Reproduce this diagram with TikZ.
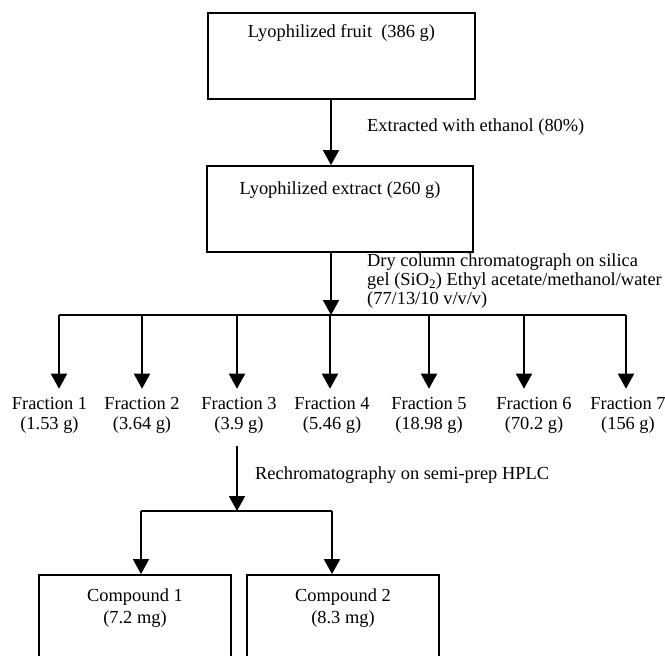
\documentclass[tikz,border=0pt]{standalone}
\usepackage{fontspec}
\setmainfont{Liberation Serif}
\usetikzlibrary{arrows.meta,calc}
\begin{document}
\begin{tikzpicture}[x=1pt,y=-1pt,
  every node/.style={font=\fontsize{18.4}{20}\selectfont},
  boxst/.style={draw, line width=1.8pt, rectangle, inner sep=0pt},
  txt/.style={inner sep=0pt, align=center},
  lbl/.style={inner sep=0pt, anchor=west, align=left},
  frac/.style={inner xsep=0pt, inner ysep=8pt, align=center},
  ln/.style={line width=1.8pt},
  arr/.style={line width=1.8pt, -{Triangle[width=16pt,length=15pt]}}]
\useasboundingbox (0,0) rectangle (665,656);
\clip (0,0) rectangle (665,656);
% boxes
\node[boxst, minimum width=267pt, minimum height=86pt] (box1) at (341.5,56) {};
\node[txt] (t1) at (341.5,33) {Lyophilized fruit\ \ (386 g)};
\node[boxst, minimum width=266pt, minimum height=86pt] (box2) at (340,209) {};
\node[txt] (t2) at (340,190) {Lyophilized extract (260 g)};
\coordinate (m) at (331,0);
\draw[arr] (box1.south -| m) -- (box2.north -| m);
\node[lbl] (l1) at (367,127) {Extracted with ethanol (80\%)};
% bar
\coordinate (bl) at (59,315);
\coordinate (br) at (626,315);
\coordinate (bm) at (331,315);
\draw[arr] (box2.south -| m) -- (bm);
\draw[ln] (bl) -- (br);
\node[lbl, font=\fontsize{18.4}{19}\selectfont] (l2) at (367,281) {Dry column chromatograph on silica\\gel (SiO\textsubscript{2}) Ethyl acetate/methanol/water\\(77/13/10 v/v/v)};
% fractions
\foreach \ax/\fx/\n/\w in {59/49.5/1/1.53 g, 142/142/2/3.64 g, 237/239/3/3.9 g, 330/332/4/5.46 g, 429/429/5/18.98 g, 524/534/6/70.2 g, 626/628/7/156 g}{
  \coordinate (a\n) at (\ax,315);
  \node[frac] (f\n) at (\fx,415) {Fraction \n\\(\w)};
  \draw[arr] (a\n) -- (a\n |- f\n.north);
}
% rechromatography
\coordinate (c3) at (237,0);
\coordinate (b2m) at (237,511);
\coordinate (b2l) at (141,511);
\coordinate (b2r) at (332,511);
\draw[arr, shorten <=5pt] (f3.south -| c3) -- (b2m);
\draw[ln] (b2l) -- (b2r);
\node[lbl] (l3) at (255,475) {Rechromatography on semi-prep HPLC};
\node[boxst, minimum width=192pt, minimum height=125pt] (cb1) at (135,637.5) {};
\node[boxst, minimum width=192pt, minimum height=125pt] (cb2) at (343,637.5) {};
\node[txt, font=\fontsize{18.4}{22}\selectfont] (ct1) at (135,608) {Compound 1\\(7.2 mg)};
\node[txt, font=\fontsize{18.4}{22}\selectfont] (ct2) at (343,608) {Compound 2\\(8.3 mg)};
\draw[arr] (b2l) -- (b2l |- cb1.north);
\draw[arr] (b2r) -- (b2r |- cb2.north);
\end{tikzpicture}
\end{document}
